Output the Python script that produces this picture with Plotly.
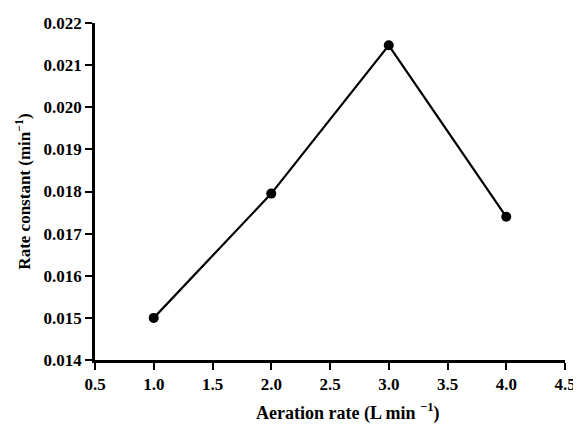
import plotly.graph_objects as go

aeration_rate = [1.0, 2.0, 3.0, 4.0]
rate_constant = [0.0150, 0.01795, 0.02147, 0.01740]
x_ticks = [0.5, 1.0, 1.5, 2.0, 2.5, 3.0, 3.5, 4.0, 4.5]
y_ticks = [0.014, 0.015, 0.016, 0.017, 0.018, 0.019, 0.020, 0.021, 0.022]
x_title = "Aeration rate (L min <sup>−1</sup>)"
y_title = "Rate constant (min<sup>−1</sup>)"

fig = go.Figure()
fig.add_trace(go.Scatter(
    x=aeration_rate, y=rate_constant, mode="lines+markers",
    line=dict(color="black", width=2.2),
    marker=dict(color="black", size=10),
    showlegend=False, cliponaxis=False,
))

fam = "Liberation Serif, Times New Roman, serif"
tickfont = dict(size=17, family=fam, color="black", weight="bold")
titlefont = dict(size=17, family=fam, color="black", weight="bold")
# the page body adds an 8px offset, so the figure is 8px smaller and shifted margins
fig.update_layout(
    width=573, height=416,
    margin=dict(l=87, r=16, t=15, b=64),
    paper_bgcolor="white", plot_bgcolor="white",
    font=dict(family=fam, size=15, color="black"),
    xaxis=dict(
        range=[0.5, 4.5], tickvals=x_ticks, ticktext=[f"{v:.1f}" for v in x_ticks],
        showline=True, linecolor="black", linewidth=2.5, showgrid=False, zeroline=False,
        ticks="outside", ticklen=7, tickwidth=2, tickcolor="black",
        tickfont=tickfont, automargin=False,
    ),
    yaxis=dict(
        range=[0.014, 0.022], tickvals=y_ticks, ticktext=[f"{v:.3f}" for v in y_ticks],
        showline=True, linecolor="black", linewidth=2.5, showgrid=False, zeroline=False,
        ticks="outside", ticklen=7, tickwidth=2, tickcolor="black",
        tickfont=tickfont, automargin=False,
        title=dict(text=y_title, font=titlefont, standoff=9),
    ),
    annotations=[dict(
        text=x_title, xref="paper", yref="paper", x=0.538, y=0,
        xanchor="center", yanchor="middle", yshift=-52, showarrow=False,
        font=dict(size=18, family=fam, color="black", weight="bold"),
    )],
)
fig.write_html("out.html")
